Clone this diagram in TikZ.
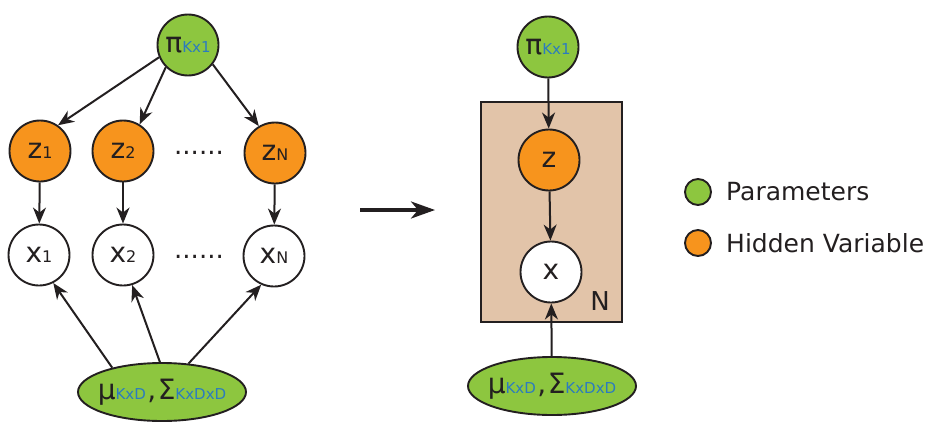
\documentclass[tikz,border=0pt]{standalone}
\usepackage{fontspec}
\setmainfont{DejaVu Sans}
\usetikzlibrary{arrows.meta,shapes.geometric}

\definecolor{ink}{HTML}{231F20}
\definecolor{paramgreen}{HTML}{8DC63F}
\definecolor{hiddenorange}{HTML}{F7941D}
\definecolor{platetan}{HTML}{E2C4A9}
\definecolor{dimblue}{HTML}{2B7BBF}

% small index on the baseline, and the blue dimension tag
\newcommand{\idx}[1]{{\fontsize{16}{16}\selectfont #1}}
\newcommand{\dimtag}[1]{{\fontsize{15}{15}\selectfont\color{dimblue}#1}}

\tikzset{
  var/.style={circle, draw=ink, line width=1.9pt, minimum size=61pt,
    inner sep=0pt, text=ink, font=\fontsize{28}{32}\selectfont},
  param/.style={var, fill=paramgreen},
  hidden/.style={var, fill=hiddenorange},
  observed/.style={var, fill=white},
  paramset/.style={ellipse, draw=ink, line width=1.9pt, fill=paramgreen,
    minimum width=168pt, minimum height=58pt, inner xsep=-25pt, inner ysep=0pt,
    text=ink, font=\fontsize{28}{32}\selectfont},
  plate/.style={rectangle, draw=ink, line width=1.9pt, fill=platetan,
    minimum width=141pt, minimum height=220pt, inner sep=0pt},
  edge/.style={draw=ink, line width=2pt, -{Stealth[length=16pt,width=13pt,inset=5pt]}},
  dotsrow/.style={text=ink, inner sep=0pt, font=\fontsize{26}{30}\selectfont},
  legdot/.style={circle, draw=ink, line width=1.9pt, minimum size=26pt, inner sep=0pt},
  legtext/.style={anchor=west, inner sep=0pt, text=ink, font=\fontsize{25}{29}\selectfont},
}

\begin{document}
\begin{tikzpicture}[x=1pt, y=-1pt]
\useasboundingbox (0,0) rectangle (931,423);

% ---- unrolled model ----
\node[param] (pi1) at (188,45) {π\dimtag{Kx1}};
\node[hidden] (z1) at (40,151) {z\idx{1}};
\node[hidden] (z2) at (123,151) {z\idx{2}};
\node[hidden] (zN) at (275,153) {z\idx{N}};
\node[observed] (x1) at (39,255) {x\idx{1}};
\node[observed] (x2) at (123,255) {x\idx{2}};
\node[observed] (xN) at (274,256) {x\idx{N}};
\node[dotsrow] (zdots) at (199,153) {......};
\node[dotsrow] (xdots) at (199,257) {......};
\node[paramset] (mu1) at (162,392) {μ\dimtag{KxD}\kern1.5pt,\kern1.5ptΣ\dimtag{KxDxD}};

\draw[edge] (pi1.203) -- (z1.55);
\draw[edge] (pi1.225) -- (z2.58);
\draw[edge] (pi1.322) -- (zN.121);
\draw[edge] (z1) -- (x1);
\draw[edge] (z2) -- (x2);
\draw[edge] (zN) -- (xN);
\draw[edge] (mu1.154) -- (x1.297);
\draw[edge] (mu1.94) -- (x2.287);
\draw[edge] (mu1.47) -- (xN.246);

% ---- arrow between the two forms ----
\coordinate (gapL) at (360,210);
\coordinate (gapR) at (435,210);
\draw[draw=ink, line width=3.5pt, -{Stealth[length=24pt,width=17pt,inset=7pt]}] (gapL) -- (gapR);

% ---- plate notation ----
\node[plate] (box) at (551.5,212) {};
\node[param] (pi2) at (548,47) {π\dimtag{Kx1}};
\node[hidden] (z) at (549,160) {z};
\node[observed] (x) at (551,272) {x};
\node[text=ink, inner sep=0pt, font=\fontsize{26}{30}\selectfont] (nlabel) at (600,301) {N};
\node[paramset] (mu2) at (552,386) {μ\dimtag{KxD}\kern1.5pt,\kern1.5ptΣ\dimtag{KxDxD}};

\draw[edge] (pi2) -- (z);
\draw[edge] (z) -- (x);
\draw[edge] (mu2) -- (x);

% ---- legend ----
\node[legdot, fill=paramgreen] (legp) at (698,192) {};
\node[legtext] (legptext) at (726,192) {Parameters};
\node[legdot, fill=hiddenorange] (legh) at (698,243) {};
\node[legtext] (leghtext) at (726,243) {Hidden Variable};
\end{tikzpicture}
\end{document}
